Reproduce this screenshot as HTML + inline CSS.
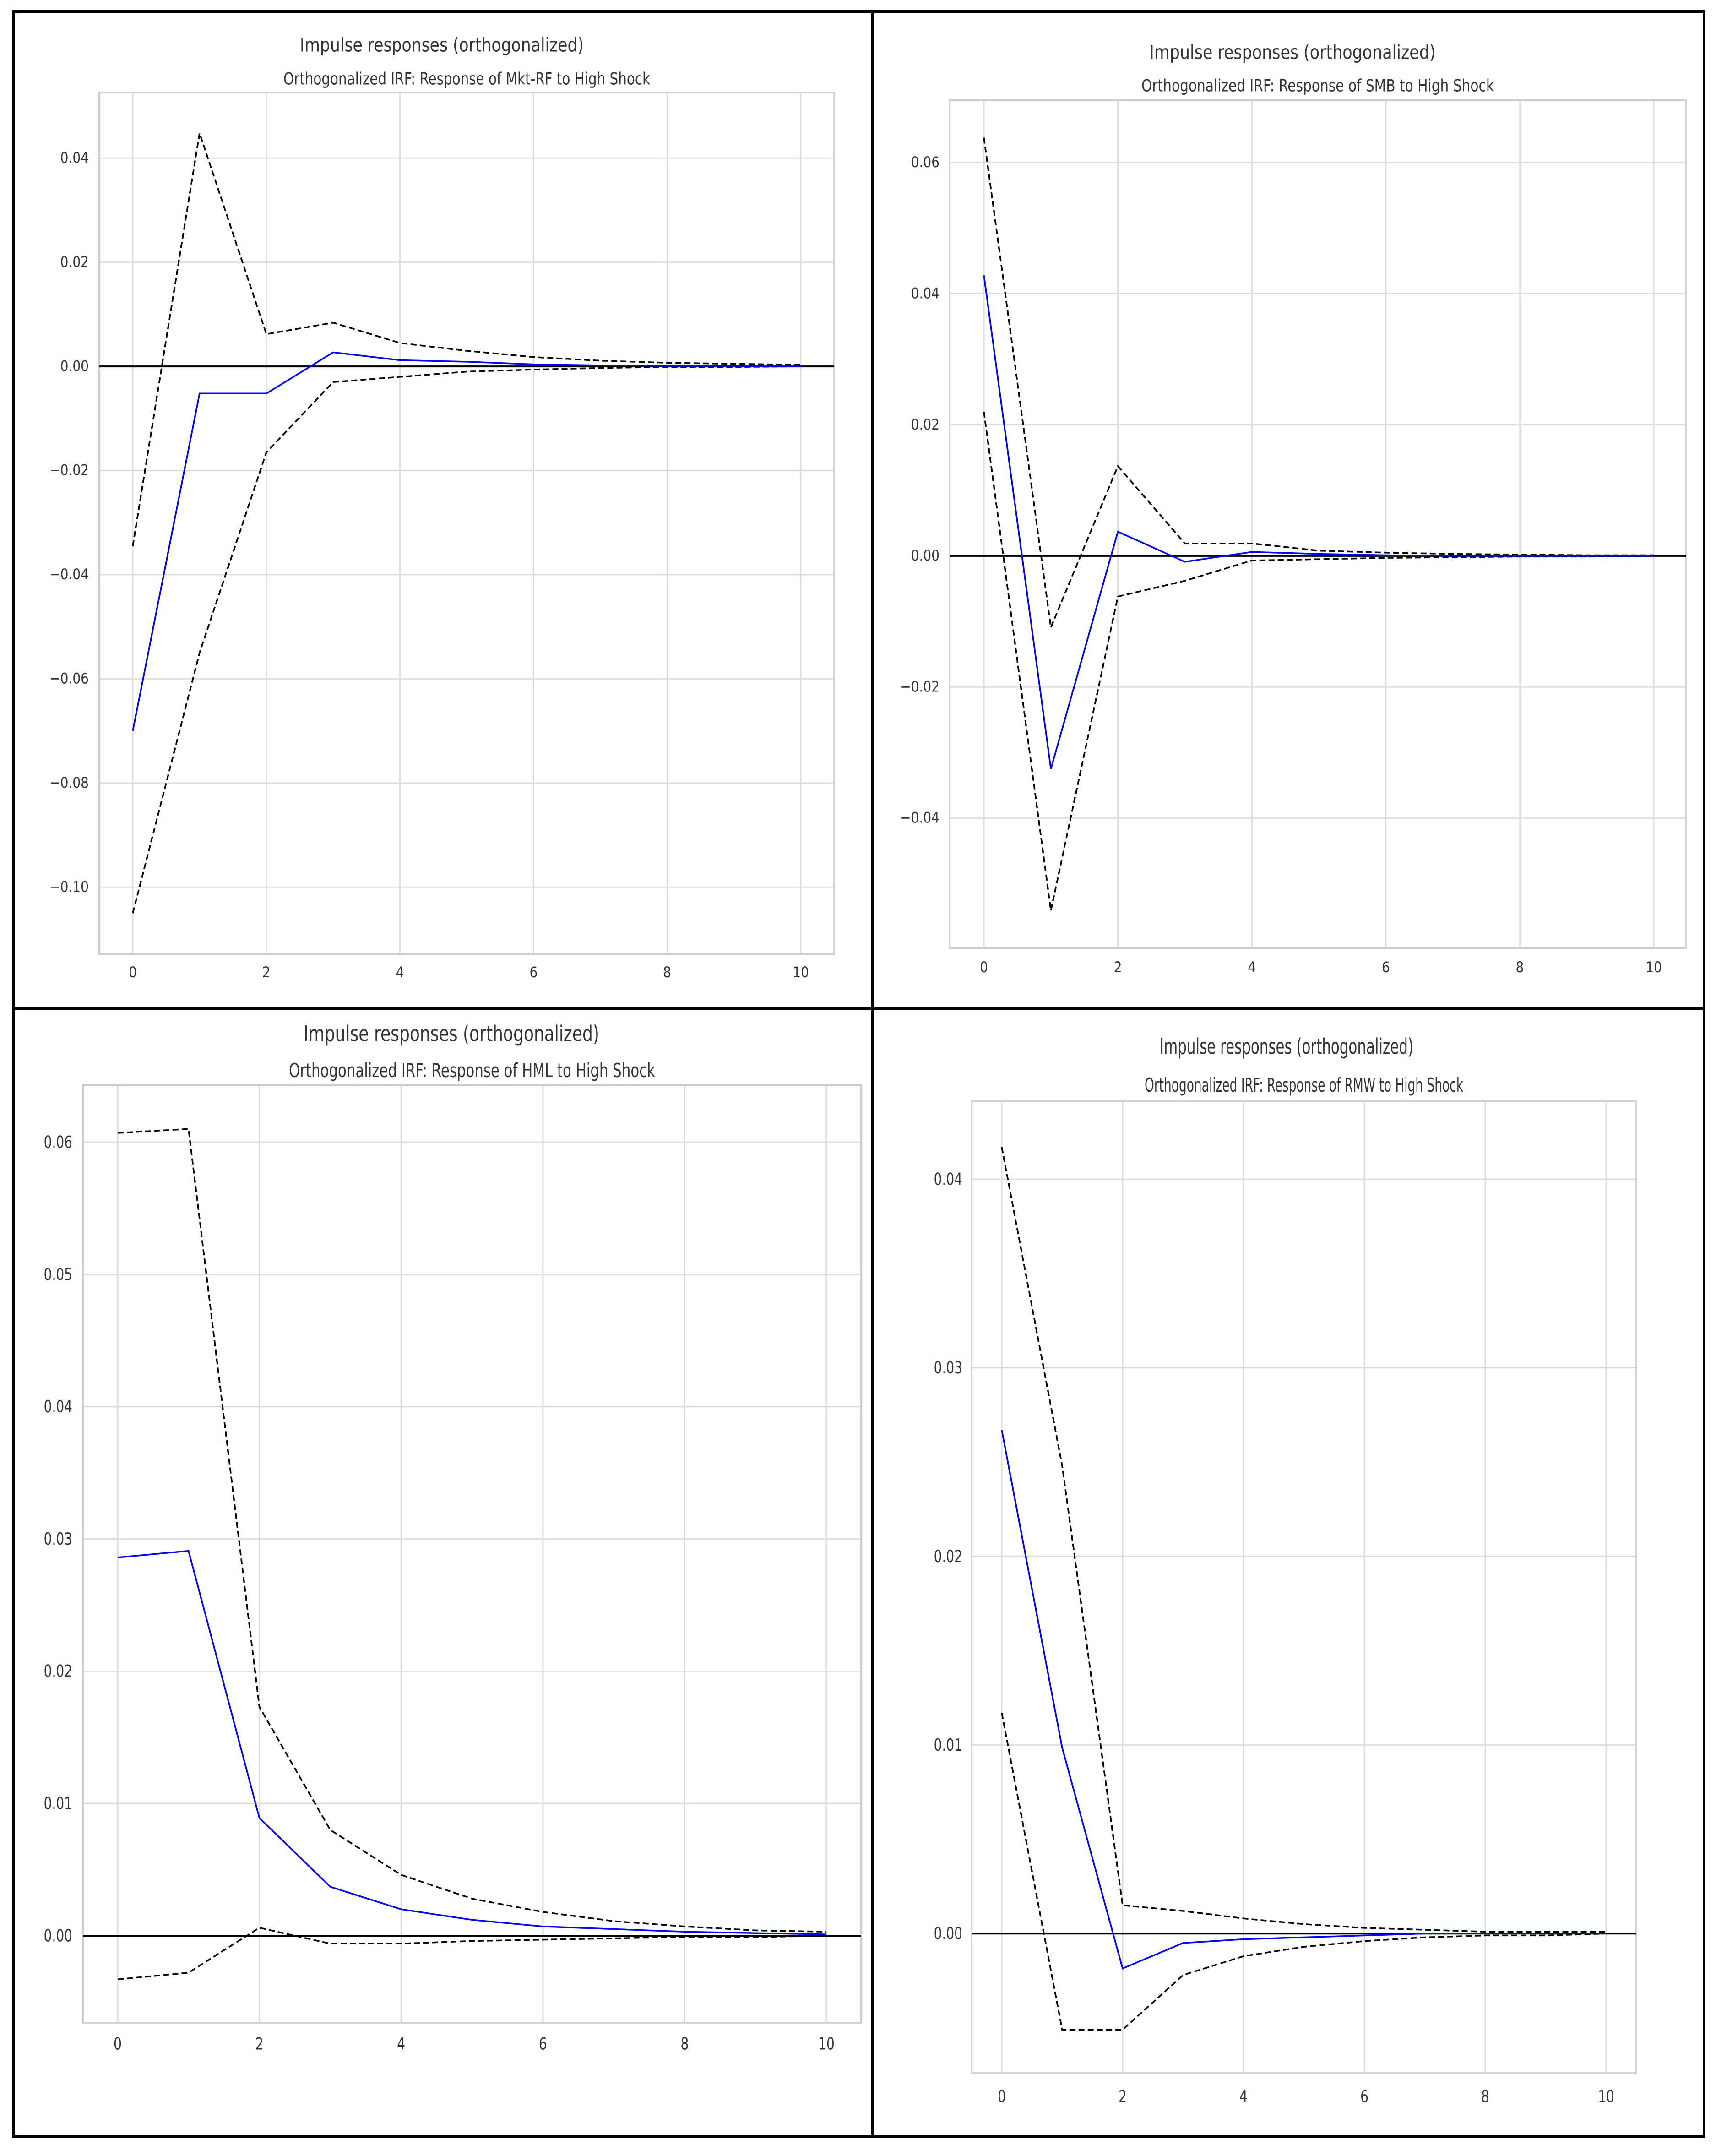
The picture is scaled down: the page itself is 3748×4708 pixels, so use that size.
<!DOCTYPE html>
<html><head><meta charset="utf-8"><style>
html,body{margin:0;padding:0;background:#fff;}
svg{display:block;}
text{font-family:"DejaVu Sans","Liberation Sans",sans-serif;fill:#333;}
</style></head><body>
<svg id="fig" width="3748" height="4708" viewBox="0 0 3748 4708" xmlns="http://www.w3.org/2000/svg">
<rect x="0" y="0" width="3748" height="4708" fill="#fff"/>
<g id="plots"></g>
<g fill="none" stroke="#000" stroke-width="6">
<rect x="30" y="25" width="3692" height="4640"/>
<line x1="1906" y1="25" x2="1906" y2="4665"/>
<line x1="30" y1="2203" x2="3722" y2="2203"/>
</g>
</svg>
<script>
const steps = [0,1,2,3,4,5,6,7,8,9,10];
const xTicks = [0,2,4,6,8,10];

const mktMid = [-0.070,-0.0052,-0.0052,0.0027,0.0012,0.0009,0.0004,0.0002,0.0001,0.0001,0.0];
const mktUpper = [-0.0345,0.0448,0.0062,0.0084,0.0045,0.0030,0.0018,0.0011,0.0007,0.0005,0.0003];
const mktLower = [-0.105,-0.055,-0.0165,-0.0030,-0.0020,-0.0010,-0.0006,-0.0003,-0.0001,-0.0001,0.0];
const mktYTicks = [0.04,0.02,0.0,-0.02,-0.04,-0.06,-0.08,-0.10];

const smbMid = [0.0428,-0.0325,0.0037,-0.0009,0.0006,0.0003,0.0001,0.0,0.0,0.0,0.0];
const smbUpper = [0.0638,-0.0109,0.0137,0.0019,0.0019,0.0008,0.0005,0.0003,0.0002,0.0001,0.0001];
const smbLower = [0.022,-0.0541,-0.0062,-0.0038,-0.0007,-0.0005,-0.0003,-0.0002,-0.0001,-0.0001,0.0];
const smbYTicks = [0.06,0.04,0.02,0.0,-0.02,-0.04];

const hmlMid = [0.0286,0.0291,0.0089,0.0037,0.0020,0.0012,0.0007,0.0005,0.0003,0.0002,0.0001];
const hmlUpper = [0.0607,0.0610,0.0173,0.0080,0.0046,0.0028,0.0018,0.0011,0.0007,0.0004,0.0003];
const hmlLower = [-0.0033,-0.0028,0.0006,-0.0006,-0.0006,-0.0004,-0.0003,-0.0002,-0.0001,-0.0001,0.0];
const hmlYTicks = [0.06,0.05,0.04,0.03,0.02,0.01,0.0];

const rmwMid = [0.0267,0.00985,-0.00185,-0.0005,-0.0003,-0.0002,-0.0001,0.0,0.0,0.0,0.0];
const rmwUpper = [0.0417,0.0248,0.0015,0.0012,0.0008,0.0005,0.0003,0.0002,0.0001,0.0001,0.0001];
const rmwLower = [0.0117,-0.0051,-0.0051,-0.0022,-0.0012,-0.0007,-0.0004,-0.0002,-0.0001,-0.0001,0.0];
const rmwYTicks = [0.04,0.03,0.02,0.01,0.0];

const NS = "http://www.w3.org/2000/svg";
const root = document.getElementById('plots');
function mk(tag, attrs, parent){
  const e = document.createElementNS(NS, tag);
  for (const k in attrs) e.setAttribute(k, attrs[k]);
  parent.appendChild(e);
  return e;
}
function txt(parent, s, x, y, size, sy, anchor, tl){
  const t = mk('text', {transform:`translate(${x},${y}) scale(1,${sy})`, 'font-size':size, 'text-anchor':anchor, 'dominant-baseline':'central'}, parent);
  if (tl) { t.setAttribute('textLength', tl); t.setAttribute('lengthAdjust','spacingAndGlyphs'); }
  t.textContent = s;
  return t;
}
function fmt(v, dec){
  const s = Math.abs(v).toFixed(dec);
  return (v < -1e-12 ? '\u2212' : '') + s;
}

function panel(cfg){
  const g = mk('g', {}, root);
  
  
  const L=cfg.axL, R=cfg.axR, T=cfg.axT, B=cfg.axB;
  const xs = v => cfg.x0 + (cfg.x10 - cfg.x0) * v / 10;
  const ys = v => T + (cfg.yMax - v) / (cfg.yMax - cfg.yMin) * (B - T);
  const grid = mk('g', {stroke:'#dcdcdc','stroke-width':3}, g);
  
  
  xTicks.forEach(v => { mk('line', {x1:xs(v), x2:xs(v), y1:T, y2:B}, grid); });
  cfg.yTicks.forEach(v => { mk('line', {x1:L, x2:R, y1:ys(v), y2:ys(v)}, grid); });
  const frame = mk('rect', {x:L, y:T, width:R-L, height:B-T, fill:'none', stroke:'#cfcfcf', 'stroke-width':4}, g);
  
  
  xTicks.forEach(v => {
    const t = txt(g, String(v), xs(v), cfg.xLabY, 28, cfg.sy, 'middle');
    
    
  });
  cfg.yTicks.forEach(v => {
    const t = txt(g, fmt(v, 2), cfg.yLabX, ys(v), 28, cfg.sy, 'end');
    
    
  });
  const zl = mk('line', {x1:L, x2:R, y1:ys(0), y2:ys(0), stroke:'#000', 'stroke-width':4}, g);
  
  
  const path = arr => steps.map((s,i) => (i?'L':'M') + xs(s).toFixed(1) + ' ' + ys(arr[i]).toFixed(1)).join(' ');
  const up = mk('path', {d:path(cfg.upper), fill:'none', stroke:'#000', 'stroke-width':3.5, 'stroke-dasharray':'13 7'}, g);
  
  
  const lo = mk('path', {d:path(cfg.lower), fill:'none', stroke:'#000', 'stroke-width':3.5, 'stroke-dasharray':'13 7'}, g);
  
  
  const md = mk('path', {d:path(cfg.mid), fill:'none', stroke:'#0000ff', 'stroke-width':3.5}, g);
  
  
  const t1 = txt(g, 'Impulse responses (orthogonalized)', cfg.titleX, cfg.titleY, 36, cfg.sy, 'middle', cfg.titleW);
  
  
  const t2 = txt(g, cfg.sub, (L+R)/2, cfg.subY, 32, cfg.sy, 'middle', cfg.subW);
  
  
}

panel({name:'panel-mkt-rf', mid:mktMid, upper:mktUpper, lower:mktLower, yTicks:mktYTicks,
  axL:217, axR:1822, axT:202, axB:2084, x0:290, x10:1749, yMax:0.0526, yMin:-0.1129,
  xLabY:2124, yLabX:194, sy:1.15, titleX:965, titleY:99, titleW:620, subY:173, subW:801,
  sub:'Orthogonalized IRF: Response of Mkt-RF to High Shock'});
panel({name:'panel-smb', mid:smbMid, upper:smbUpper, lower:smbLower, yTicks:smbYTicks,
  axL:2074, axR:3682, axT:219, axB:2070, x0:2149, x10:3612, yMax:0.0695, yMin:-0.0598,
  xLabY:2113, yLabX:2052, sy:1.15, titleX:2823, titleY:115, titleW:625, subY:188, subW:770,
  sub:'Orthogonalized IRF: Response of SMB to High Shock'});
panel({name:'panel-hml', mid:hmlMid, upper:hmlUpper, lower:hmlLower, yTicks:hmlYTicks,
  axL:181, axR:1881, axT:2370, axB:4417, x0:257, x10:1805, yMax:0.0643, yMin:-0.00658,
  xLabY:4463, yLabX:158, sy:1.3, titleX:986, titleY:2257, titleW:646, subY:2338, subW:800,
  sub:'Orthogonalized IRF: Response of HML to High Shock'});
panel({name:'panel-rmw', mid:rmwMid, upper:rmwUpper, lower:rmwLower, yTicks:rmwYTicks,
  axL:2122, axR:3574, axT:2405, axB:4527, x0:2188, x10:3508, yMax:0.04413, yMin:-0.0074,
  xLabY:4578, yLabX:2102, sy:1.3, titleX:2810, titleY:2285, titleW:554, subY:2370, subW:696,
  sub:'Orthogonalized IRF: Response of RMW to High Shock'});
</script>
</body></html>
